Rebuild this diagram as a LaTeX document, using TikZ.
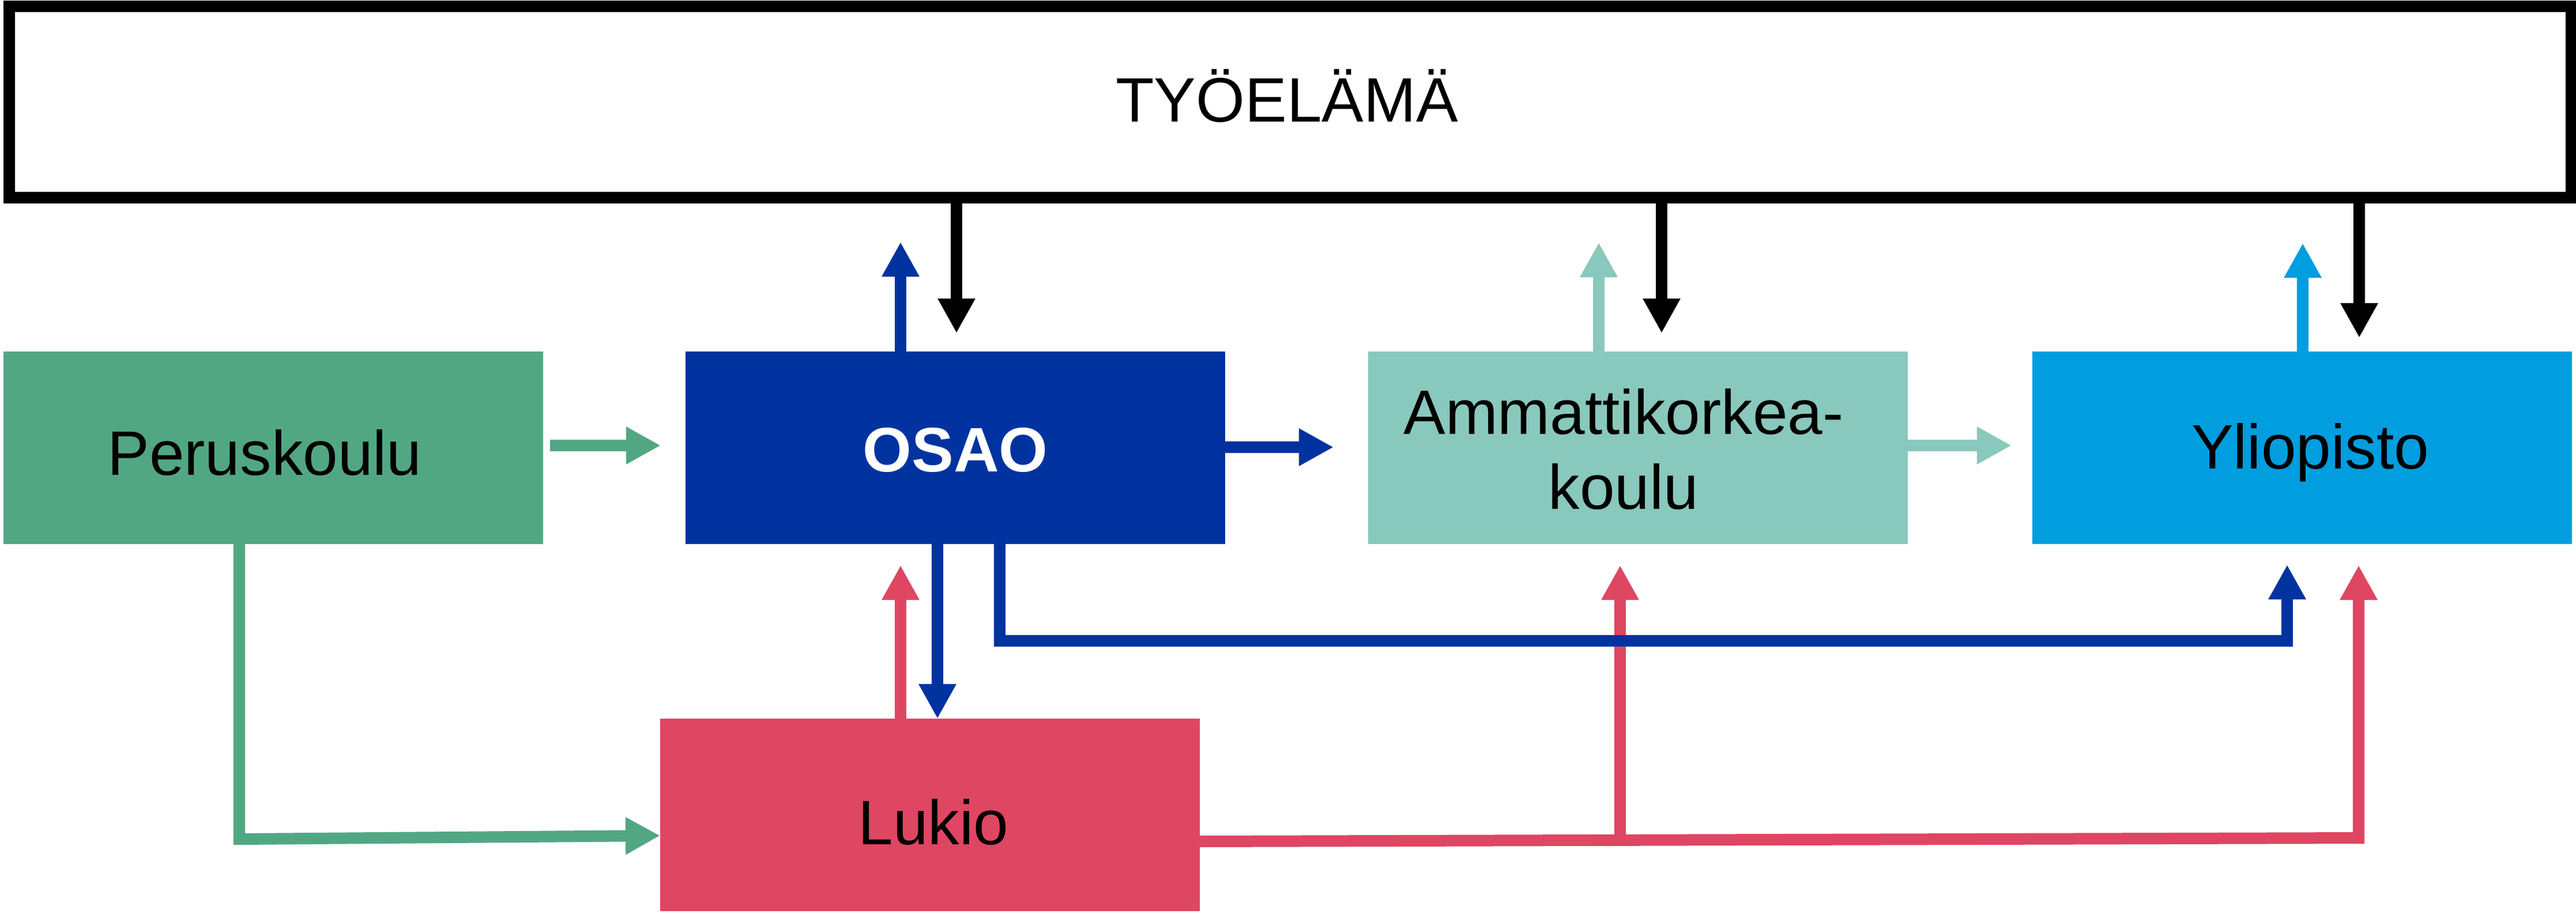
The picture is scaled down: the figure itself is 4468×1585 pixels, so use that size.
\documentclass[tikz,border=0pt]{standalone}
\usepackage{fontspec}
\setmainfont{Liberation Sans}
\usetikzlibrary{arrows.meta}
\definecolor{cgreen}{HTML}{52A783}
\definecolor{cblue}{HTML}{0033A0}
\definecolor{cteal}{HTML}{89C8BC}
\definecolor{clblue}{HTML}{009EDF}
\definecolor{cred}{HTML}{DF4661}
\begin{document}
\begin{tikzpicture}[x=0.5pt,y=-0.5pt,
  box/.style={rectangle,minimum width=468pt,minimum height=167pt,inner sep=0pt,outer sep=0pt},
  txt/.style={font=\fontsize{54.5}{65}\selectfont,inner sep=0pt,outer sep=0pt,anchor=base},
  arr/.style={line width=10pt,-{Triangle[length=30pt,width=30.5pt]}}]
\useasboundingbox (0,0) rectangle (4468,1585);
% boxes
\node[draw,line width=10pt,minimum width=2222pt,minimum height=166pt,inner sep=0pt,outer sep=0pt] (top) at (2238,177) {};
\node[box,fill=cgreen] (perus) at (474,777) {};
\node[box,fill=cblue] (osao) at (1657,777) {};
\node[box,fill=cteal] (amk) at (2841,777) {};
\node[box,fill=clblue] (ylio) at (3993,777) {};
\node[box,fill=cred] (lukio) at (1613,1414) {};
% texts
\node[txt] (topt) at (2232,211) {TYÖELÄMÄ};
\node[txt] (perust) at (459,824) {Peruskoulu};
\node[txt,text=white,font=\fontsize{54.5}{65}\selectfont\bfseries] (osaot) at (1657,818) {OSAO};
\node[txt,anchor=north,align=center] (amkt) at (2816,675) {Ammattikorkea-\\koulu};
\node[txt] (yliot) at (4007,813) {Yliopisto};
\node[txt] (lukiot) at (1619,1465) {Lukio};
% coordinates
\coordinate (k1) at (1659,578);
\coordinate (k2) at (2882,578);
\coordinate (k3) at (4092,586);
\coordinate (uo) at (1562,420);
\coordinate (ua) at (2773,421);
\coordinate (uy) at (3994,422);
\coordinate (gT) at (1146,773);
\coordinate (bT2) at (2313,776);
\coordinate (tT2) at (3489,773);
\coordinate (gC) at (415,1456);
\coordinate (gL) at (1146,1450);
\coordinate (rT1) at (1562,981);
\coordinate (bD) at (1626,1248);
\coordinate (rS) at (2081,1460);
\coordinate (rC) at (4091,1454);
\coordinate (rT3) at (4091,981);
\coordinate (rB) at (2810,1457);
\coordinate (rT2) at (2810,981);
\coordinate (bE1) at (1734,1112);
\coordinate (bE2) at (3967,1112);
\coordinate (bT3) at (3967,980);
% black arrows from TYOELAMA
\draw[arr,black] (top.south -| k1) -- (k1);
\draw[arr,black] (top.south -| k2) -- (k2);
\draw[arr,black] (top.south -| k3) -- (k3);
% up arrows to TYOELAMA
\draw[arr,cblue] (osao.north -| uo) -- (uo);
\draw[arr,cteal] (amk.north -| ua) -- (ua);
\draw[arr,clblue] (ylio.north -| uy) -- (uy);
% horizontal arrows
\draw[arr,cgreen,shorten <=6pt] (perus.east |- gT) -- (gT);
\draw[arr,cblue] (osao.east |- bT2) -- (bT2);
\draw[arr,cteal] (amk.east |- tT2) -- (tT2);
% Peruskoulu -> Lukio
\draw[arr,cgreen] (perus.south -| gC) -- (gC) -- (lukio.west |- gL);
% Lukio -> others
\draw[arr,cred] (lukio.north -| rT1) -- (rT1);
\draw[arr,cred] (lukio.east |- rS) -- (rC) -- (rT3);
\draw[arr,cred] (rB) -- (rT2);
% OSAO -> Lukio, Yliopisto
\draw[arr,cblue] (osao.south -| bD) -- (lukio.north -| bD);
\draw[arr,cblue] (osao.south -| bE1) -- (bE1) -- (bE2) -- (bT3);
\end{tikzpicture}
\end{document}
